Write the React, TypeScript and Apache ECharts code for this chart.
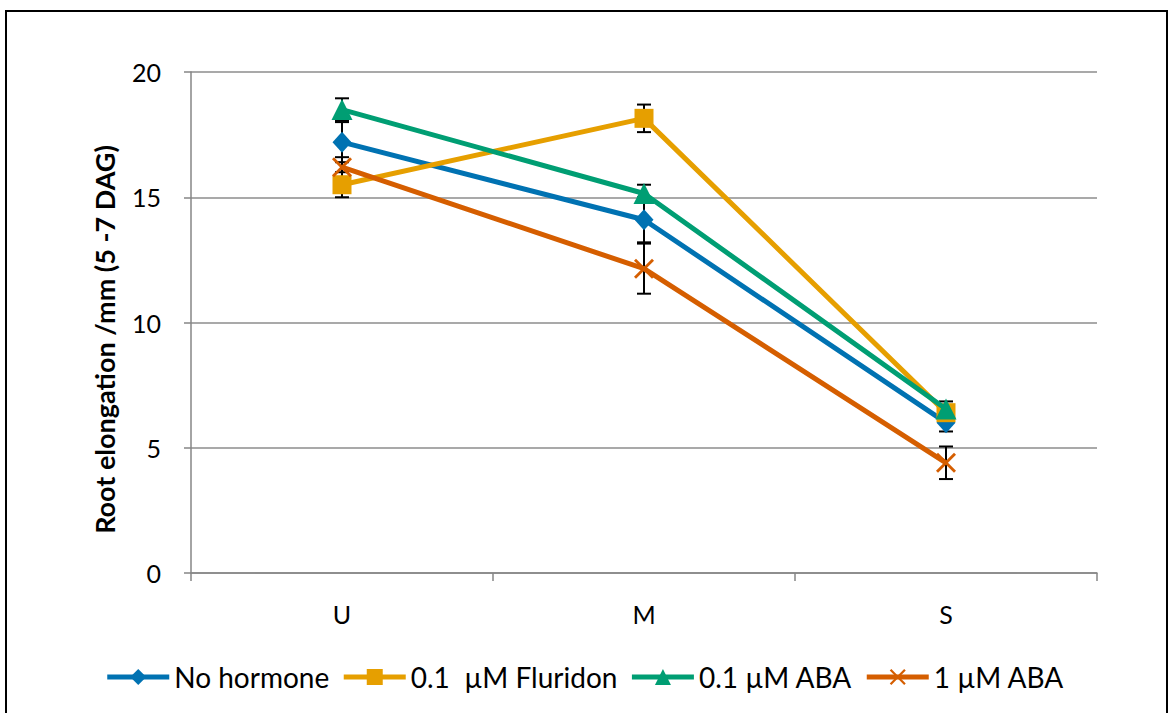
import React, { useEffect, useRef } from "react";
import * as echarts from "echarts";

const categories = ["U", "M", "S"];
const seriesNames = ["No hormone", "0.1  µM Fluridon", "0.1 µM ABA", "1 µM ABA"];
const noHormone = [17.2, 14.1, 6.0];
const fluridon = [15.5, 18.15, 6.4];
const aba01 = [18.5, 15.15, 6.55];
const aba1 = [16.2, 12.15, 4.4];
const noHormoneErr = [0.8, 0.9, 0.35];
const fluridonErr = [0.5, 0.55, 0.3];
const aba01Err = [0.45, 0.35, 0.3];
const aba1Err = [0.4, 1.0, 0.65];
const yTicks = [0, 5, 10, 15, 20];

const colors = ["#0072B2", "#E69F00", "#009E73", "#D55E00"];
const symbols = [
  "diamond",
  "rect",
  "triangle",
  "path://M0,1 L1,0 L5,4 L9,0 L10,1 L6,5 L10,9 L9,10 L5,6 L1,10 L0,9 L4,5 Z",
];
const symbolSizes: any[] = [[19, 21], 19, 21, 20];

export default function App() {
  const ref = useRef<HTMLDivElement>(null);
  useEffect(() => {
    if (!ref.current) return;
    const chart = echarts.init(ref.current, null, { renderer: "svg" });
    const values = [noHormone, fluridon, aba01, aba1];
    const errs = [noHormoneErr, fluridonErr, aba01Err, aba1Err];
    const font = "Lato, 'Noto Sans', sans-serif";

    const lineSeries = values.map((v, i) => ({
      name: seriesNames[i],
      type: "line",
      data: v,
      color: colors[i],
      symbol: symbols[i],
      symbolSize: symbolSizes[i],
      showAllSymbol: true,
      lineStyle: { width: 5, color: colors[i] },
      itemStyle: { color: colors[i] },
      z: 3 + i,
    }));

    const errData: number[][] = [];
    values.forEach((v, s) => {
      v.forEach((val, c) => {
        errData.push([c, val - errs[s][c], val + errs[s][c]]);
      });
    });

    const errSeries = {
      type: "custom",
      name: "err",
      data: errData,
      z: 2,
      silent: true,
      renderItem: (params: any, api: any) => {
        const x = api.value(0);
        const lo = api.coord([x, api.value(1)]);
        const hi = api.coord([x, api.value(2)]);
        const w = 7;
        const style = { stroke: "#000", lineWidth: 2 };
        return {
          type: "group",
          children: [
            { type: "line", shape: { x1: lo[0], y1: lo[1], x2: hi[0], y2: hi[1] }, style },
            { type: "line", shape: { x1: lo[0] - w, y1: lo[1], x2: lo[0] + w, y2: lo[1] }, style },
            { type: "line", shape: { x1: hi[0] - w, y1: hi[1], x2: hi[0] + w, y2: hi[1] }, style },
          ],
        };
      },
      encode: { x: 0, y: [1, 2] },
    };

    chart.setOption({
      animation: false,
      backgroundColor: "#fff",
      textStyle: { fontFamily: font },
      graphic: [
        {
          type: "rect",
          shape: { x: 6, y: 11, width: 1161, height: 720 },
          style: { fill: "none", stroke: "#000", lineWidth: 2 },
          z: 100,
        },
      ],
      grid: { left: 191, right: 72, top: 72, bottom: 140 },
      legend: {
        data: seriesNames,
        left: "center",
        top: 658,
        itemWidth: 62,
        itemHeight: 20,
        itemGap: 12,
        lineStyle: { width: 5 },
        textStyle: { fontSize: 28, color: "#000", fontFamily: font },
      },
      xAxis: {
        type: "category",
        data: categories,
        boundaryGap: true,
        axisLine: { lineStyle: { color: "#868686", width: 1.5 } },
        axisTick: { show: true, length: 8, lineStyle: { color: "#868686", width: 1.5 } },
        axisLabel: { fontSize: 25, color: "#000", margin: 28, fontFamily: font },
      },
      yAxis: {
        type: "value",
        min: yTicks[0],
        max: yTicks[yTicks.length - 1],
        interval: 5,
        name: "Root elongation /mm (5 -7 DAG)",
        nameLocation: "middle",
        nameGap: 73,
        nameTextStyle: {
          fontSize: 27,
          fontWeight: "bold",
          color: "#000",
          fontFamily: font,
          padding: [0, 34, 0, 0],
        },
        axisLine: { show: true, lineStyle: { color: "#868686", width: 1.5 } },
        axisTick: { show: true, length: 7, lineStyle: { color: "#868686", width: 1.5 } },
        axisLabel: { fontSize: 25, color: "#000", margin: 30, fontFamily: font },
        splitLine: { lineStyle: { color: "#8c8c8c", width: 1.5 } },
      },
      series: [errSeries, ...lineSeries],
    });
    return () => chart.dispose();
  }, []);
  return (
    <div
      ref={ref}
      style={{ position: "fixed", left: 0, top: 0, width: 1169, height: 713 }}
    />
  );
}
